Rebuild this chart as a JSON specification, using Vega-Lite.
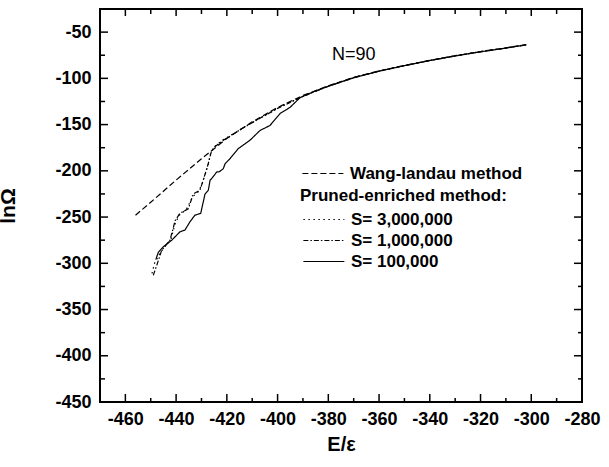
{
  "$schema": "https://vega.github.io/schema/vega-lite/v6.json",
  "width": 482,
  "height": 393,
  "autosize": {"type": "none"},
  "padding": {"left": 100, "top": 9, "right": 27, "bottom": 65},
  "background": "white",
  "config": {
    "view": {"stroke": "black", "strokeWidth": 2},
    "axis": {
      "grid": false,
      "domain": false,
      "labelFont": "Liberation Sans",
      "labelFontWeight": "bold",
      "labelFontSize": 18,
      "labelColor": "black",
      "titleFont": "Liberation Sans",
      "titleFontWeight": "bold",
      "titleColor": "black",
      "labelFlush": false,
      "labelOverlap": false
    },
    "legend": {
      "labelFont": "Liberation Sans",
      "labelFontWeight": "bold",
      "labelFontSize": 17,
      "labelColor": "black",
      "titleFont": "Liberation Sans",
      "titleFontWeight": "bold",
      "titleFontSize": 17,
      "titleColor": "black",
      "symbolType": "M-1,0H7",
      "symbolSize": 105,
      "symbolStrokeColor": "black",
      "symbolStrokeWidth": 1.2,
      "labelOffset": 34,
      "padding": 0,
      "rowPadding": 3,
      "titlePadding": 6,
      "titleAnchor": "start",
      "labelLimit": 300,
      "titleLimit": 400
    }
  },
  "datasets": {
    "wl": [
      {"method": "Wang-landau method", "E": -456, "lnO": -248},
      {"method": "Wang-landau method", "E": -450, "lnO": -234},
      {"method": "Wang-landau method", "E": -440, "lnO": -210},
      {"method": "Wang-landau method", "E": -430, "lnO": -187},
      {"method": "Wang-landau method", "E": -420, "lnO": -165},
      {"method": "Wang-landau method", "E": -410, "lnO": -147},
      {"method": "Wang-landau method", "E": -400, "lnO": -131.5},
      {"method": "Wang-landau method", "E": -390, "lnO": -118.5},
      {"method": "Wang-landau method", "E": -380, "lnO": -108},
      {"method": "Wang-landau method", "E": -370, "lnO": -99},
      {"method": "Wang-landau method", "E": -360, "lnO": -92},
      {"method": "Wang-landau method", "E": -350, "lnO": -86},
      {"method": "Wang-landau method", "E": -340, "lnO": -80.5},
      {"method": "Wang-landau method", "E": -330, "lnO": -75.5},
      {"method": "Wang-landau method", "E": -320, "lnO": -71},
      {"method": "Wang-landau method", "E": -310, "lnO": -67},
      {"method": "Wang-landau method", "E": -302, "lnO": -63.5}
    ],
    "perm": [
      {"series": "S= 3,000,000", "E": -449.5, "lnO": -311},
      {"series": "S= 3,000,000", "E": -448.5, "lnO": -300},
      {"series": "S= 3,000,000", "E": -446.5, "lnO": -290},
      {"series": "S= 3,000,000", "E": -444.5, "lnO": -282},
      {"series": "S= 3,000,000", "E": -442, "lnO": -274},
      {"series": "S= 3,000,000", "E": -440.5, "lnO": -258},
      {"series": "S= 3,000,000", "E": -438.8, "lnO": -248},
      {"series": "S= 3,000,000", "E": -436, "lnO": -242},
      {"series": "S= 3,000,000", "E": -433.5, "lnO": -228},
      {"series": "S= 3,000,000", "E": -431, "lnO": -222},
      {"series": "S= 3,000,000", "E": -429.5, "lnO": -212},
      {"series": "S= 3,000,000", "E": -427.5, "lnO": -195},
      {"series": "S= 3,000,000", "E": -426.3, "lnO": -180},
      {"series": "S= 3,000,000", "E": -424.5, "lnO": -173},
      {"series": "S= 3,000,000", "E": -421.5, "lnO": -166.5},
      {"series": "S= 3,000,000", "E": -415, "lnO": -156},
      {"series": "S= 3,000,000", "E": -410, "lnO": -147.8},
      {"series": "S= 3,000,000", "E": -400, "lnO": -132.3},
      {"series": "S= 3,000,000", "E": -390, "lnO": -119.3},
      {"series": "S= 3,000,000", "E": -380, "lnO": -108.4},
      {"series": "S= 3,000,000", "E": -370, "lnO": -99.2},
      {"series": "S= 3,000,000", "E": -360, "lnO": -92.1},
      {"series": "S= 3,000,000", "E": -350, "lnO": -86.1},
      {"series": "S= 3,000,000", "E": -340, "lnO": -80.6},
      {"series": "S= 3,000,000", "E": -330, "lnO": -75.6},
      {"series": "S= 3,000,000", "E": -320, "lnO": -71.1},
      {"series": "S= 3,000,000", "E": -310, "lnO": -67.1},
      {"series": "S= 3,000,000", "E": -302, "lnO": -63.6},
      {"series": "S= 1,000,000", "E": -449, "lnO": -313},
      {"series": "S= 1,000,000", "E": -447.6, "lnO": -302},
      {"series": "S= 1,000,000", "E": -445.7, "lnO": -286},
      {"series": "S= 1,000,000", "E": -442.4, "lnO": -275},
      {"series": "S= 1,000,000", "E": -440.4, "lnO": -254},
      {"series": "S= 1,000,000", "E": -438.5, "lnO": -246},
      {"series": "S= 1,000,000", "E": -435.2, "lnO": -241},
      {"series": "S= 1,000,000", "E": -433.2, "lnO": -225},
      {"series": "S= 1,000,000", "E": -430.6, "lnO": -221},
      {"series": "S= 1,000,000", "E": -429.3, "lnO": -210},
      {"series": "S= 1,000,000", "E": -427.3, "lnO": -192},
      {"series": "S= 1,000,000", "E": -426, "lnO": -178},
      {"series": "S= 1,000,000", "E": -424.7, "lnO": -174},
      {"series": "S= 1,000,000", "E": -421.4, "lnO": -167},
      {"series": "S= 1,000,000", "E": -415, "lnO": -156},
      {"series": "S= 1,000,000", "E": -410, "lnO": -148},
      {"series": "S= 1,000,000", "E": -400, "lnO": -132.5},
      {"series": "S= 1,000,000", "E": -390, "lnO": -119.5},
      {"series": "S= 1,000,000", "E": -380, "lnO": -108.5},
      {"series": "S= 1,000,000", "E": -370, "lnO": -99.3},
      {"series": "S= 1,000,000", "E": -360, "lnO": -92.2},
      {"series": "S= 1,000,000", "E": -350, "lnO": -86.2},
      {"series": "S= 1,000,000", "E": -340, "lnO": -80.7},
      {"series": "S= 1,000,000", "E": -330, "lnO": -75.7},
      {"series": "S= 1,000,000", "E": -320, "lnO": -71.2},
      {"series": "S= 1,000,000", "E": -310, "lnO": -67.2},
      {"series": "S= 1,000,000", "E": -302, "lnO": -63.7},
      {"series": "S= 100,000", "E": -448, "lnO": -296},
      {"series": "S= 100,000", "E": -447, "lnO": -288},
      {"series": "S= 100,000", "E": -445, "lnO": -282},
      {"series": "S= 100,000", "E": -441.7, "lnO": -275},
      {"series": "S= 100,000", "E": -438.5, "lnO": -266},
      {"series": "S= 100,000", "E": -436.5, "lnO": -264},
      {"series": "S= 100,000", "E": -434.5, "lnO": -255},
      {"series": "S= 100,000", "E": -432.6, "lnO": -248},
      {"series": "S= 100,000", "E": -430.3, "lnO": -246},
      {"series": "S= 100,000", "E": -428.6, "lnO": -225},
      {"series": "S= 100,000", "E": -427.3, "lnO": -221},
      {"series": "S= 100,000", "E": -426.6, "lnO": -210},
      {"series": "S= 100,000", "E": -426, "lnO": -208.5},
      {"series": "S= 100,000", "E": -424, "lnO": -201.3},
      {"series": "S= 100,000", "E": -423, "lnO": -201},
      {"series": "S= 100,000", "E": -421.4, "lnO": -197.7},
      {"series": "S= 100,000", "E": -420.7, "lnO": -192.3},
      {"series": "S= 100,000", "E": -418.8, "lnO": -187},
      {"series": "S= 100,000", "E": -416.1, "lnO": -178},
      {"series": "S= 100,000", "E": -415.5, "lnO": -176},
      {"series": "S= 100,000", "E": -410.9, "lnO": -167},
      {"series": "S= 100,000", "E": -406.9, "lnO": -156.3},
      {"series": "S= 100,000", "E": -403, "lnO": -151},
      {"series": "S= 100,000", "E": -399, "lnO": -138},
      {"series": "S= 100,000", "E": -395.1, "lnO": -131.4},
      {"series": "S= 100,000", "E": -391.2, "lnO": -121},
      {"series": "S= 100,000", "E": -385, "lnO": -113.5},
      {"series": "S= 100,000", "E": -380, "lnO": -108.6},
      {"series": "S= 100,000", "E": -370, "lnO": -99.4},
      {"series": "S= 100,000", "E": -360, "lnO": -92.3},
      {"series": "S= 100,000", "E": -350, "lnO": -86.3},
      {"series": "S= 100,000", "E": -340, "lnO": -80.8},
      {"series": "S= 100,000", "E": -330, "lnO": -75.8},
      {"series": "S= 100,000", "E": -320, "lnO": -71.3},
      {"series": "S= 100,000", "E": -310, "lnO": -67.3},
      {"series": "S= 100,000", "E": -302, "lnO": -63.8}
    ],
    "label": [
      {"E": -370, "lnO": -75, "text": "N=90"}
    ],
    "xmaj": [{"v": -460}, {"v": -440}, {"v": -420}, {"v": -400}, {"v": -380}, {"v": -360}, {"v": -340}, {"v": -320}, {"v": -300}],
    "xmin": [{"v": -450}, {"v": -430}, {"v": -410}, {"v": -390}, {"v": -370}, {"v": -350}, {"v": -330}, {"v": -310}, {"v": -290}],
    "ymaj": [{"v": -400}, {"v": -350}, {"v": -300}, {"v": -250}, {"v": -200}, {"v": -150}, {"v": -100}, {"v": -50}],
    "ymin": [{"v": -425}, {"v": -375}, {"v": -325}, {"v": -275}, {"v": -225}, {"v": -175}, {"v": -125}, {"v": -75}]
  },
  "resolve": {
    "scale": {"strokeDash": "independent"},
    "legend": {"strokeDash": "independent"},
    "axis": {"x": "independent", "y": "independent"}
  },
  "layer": [
    {
      "data": {"name": "wl"},
      "mark": {"type": "line", "color": "black", "strokeWidth": 1.2},
      "encoding": {
        "x": {
          "field": "E", "type": "quantitative",
          "scale": {"domain": [-470, -280], "nice": false, "zero": false},
          "axis": {
            "orient": "bottom",
            "values": [-460, -440, -420, -400, -380, -360, -340, -320, -300, -280],
            "labelExpr": "'' + datum.value",
            "ticks": false, "labelPadding": 8,
            "title": "E/ε", "titleFontSize": 20, "titlePadding": 6
          }
        },
        "y": {
          "field": "lnO", "type": "quantitative",
          "scale": {"domain": [-450, -25], "nice": false, "zero": false},
          "axis": {
            "orient": "left",
            "values": [-450, -400, -350, -300, -250, -200, -150, -100, -50],
            "labelExpr": "'' + datum.value",
            "ticks": false, "labelPadding": 9,
            "title": "lnΩ", "titleFontSize": 21, "titlePadding": 36
          }
        },
        "strokeDash": {
          "field": "method", "type": "nominal",
          "scale": {"domain": ["Wang-landau method"], "range": [[6, 3]]},
          "legend": {"title": null, "orient": "none", "legendX": 199, "legendY": 156}
        }
      }
    },
    {
      "data": {"name": "perm"},
      "mark": {"type": "line", "color": "black", "strokeWidth": 1.2},
      "encoding": {
        "x": {"field": "E", "type": "quantitative", "scale": {"domain": [-470, -280], "nice": false, "zero": false}, "axis": null},
        "y": {"field": "lnO", "type": "quantitative", "scale": {"domain": [-450, -25], "nice": false, "zero": false}, "axis": null},
        "strokeDash": {
          "field": "series", "type": "nominal",
          "scale": {
            "domain": ["S= 3,000,000", "S= 1,000,000", "S= 100,000"],
            "range": [[1.5, 3.5], [5, 2, 1.5, 2], [1, 0]]
          },
          "legend": {"title": "Pruned-enriched method:", "orient": "none", "legendX": 200, "legendY": 179}
        }
      }
    },
    {
      "data": {"name": "label"},
      "mark": {"type": "text", "font": "Liberation Sans", "fontSize": 18, "color": "black"},
      "encoding": {
        "x": {"field": "E", "type": "quantitative", "scale": {"domain": [-470, -280], "nice": false, "zero": false}, "axis": null},
        "y": {"field": "lnO", "type": "quantitative", "scale": {"domain": [-450, -25], "nice": false, "zero": false}, "axis": null},
        "text": {"field": "text"}
      }
    },
    {
      "data": {"name": "xmaj"},
      "mark": {"type": "tick", "orient": "vertical", "size": 8, "thickness": 1.5, "color": "black", "opacity": 1, "yOffset": -4},
      "encoding": {
        "x": {"field": "v", "type": "quantitative", "scale": {"domain": [-470, -280], "nice": false, "zero": false}, "axis": null},
        "y": {"datum": -450, "type": "quantitative", "scale": {"domain": [-450, -25], "nice": false, "zero": false}, "axis": null}
      }
    },
    {
      "data": {"name": "xmin"},
      "mark": {"type": "tick", "orient": "vertical", "size": 4, "thickness": 1.5, "color": "black", "opacity": 1, "yOffset": -2},
      "encoding": {
        "x": {"field": "v", "type": "quantitative", "scale": {"domain": [-470, -280], "nice": false, "zero": false}, "axis": null},
        "y": {"datum": -450, "type": "quantitative", "scale": {"domain": [-450, -25], "nice": false, "zero": false}, "axis": null}
      }
    },
    {
      "data": {"name": "xmaj"},
      "mark": {"type": "tick", "orient": "vertical", "size": 7, "thickness": 1.5, "color": "black", "opacity": 1, "yOffset": 3.5},
      "encoding": {
        "x": {"field": "v", "type": "quantitative", "scale": {"domain": [-470, -280], "nice": false, "zero": false}, "axis": null},
        "y": {"datum": -25, "type": "quantitative", "scale": {"domain": [-450, -25], "nice": false, "zero": false}, "axis": null}
      }
    },
    {
      "data": {"name": "xmin"},
      "mark": {"type": "tick", "orient": "vertical", "size": 5, "thickness": 1.5, "color": "black", "opacity": 1, "yOffset": 2.5},
      "encoding": {
        "x": {"field": "v", "type": "quantitative", "scale": {"domain": [-470, -280], "nice": false, "zero": false}, "axis": null},
        "y": {"datum": -25, "type": "quantitative", "scale": {"domain": [-450, -25], "nice": false, "zero": false}, "axis": null}
      }
    },
    {
      "data": {"name": "ymaj"},
      "mark": {"type": "tick", "orient": "horizontal", "size": 8, "thickness": 1.5, "color": "black", "opacity": 1, "xOffset": 4},
      "encoding": {
        "y": {"field": "v", "type": "quantitative", "scale": {"domain": [-450, -25], "nice": false, "zero": false}, "axis": null},
        "x": {"datum": -470, "type": "quantitative", "scale": {"domain": [-470, -280], "nice": false, "zero": false}, "axis": null}
      }
    },
    {
      "data": {"name": "ymin"},
      "mark": {"type": "tick", "orient": "horizontal", "size": 5, "thickness": 1.5, "color": "black", "opacity": 1, "xOffset": 2.5},
      "encoding": {
        "y": {"field": "v", "type": "quantitative", "scale": {"domain": [-450, -25], "nice": false, "zero": false}, "axis": null},
        "x": {"datum": -470, "type": "quantitative", "scale": {"domain": [-470, -280], "nice": false, "zero": false}, "axis": null}
      }
    },
    {
      "data": {"name": "ymaj"},
      "mark": {"type": "tick", "orient": "horizontal", "size": 8, "thickness": 1.5, "color": "black", "opacity": 1, "xOffset": -4},
      "encoding": {
        "y": {"field": "v", "type": "quantitative", "scale": {"domain": [-450, -25], "nice": false, "zero": false}, "axis": null},
        "x": {"datum": -280, "type": "quantitative", "scale": {"domain": [-470, -280], "nice": false, "zero": false}, "axis": null}
      }
    },
    {
      "data": {"name": "ymin"},
      "mark": {"type": "tick", "orient": "horizontal", "size": 4, "thickness": 1.5, "color": "black", "opacity": 1, "xOffset": -2},
      "encoding": {
        "y": {"field": "v", "type": "quantitative", "scale": {"domain": [-450, -25], "nice": false, "zero": false}, "axis": null},
        "x": {"datum": -280, "type": "quantitative", "scale": {"domain": [-470, -280], "nice": false, "zero": false}, "axis": null}
      }
    }
  ]
}
